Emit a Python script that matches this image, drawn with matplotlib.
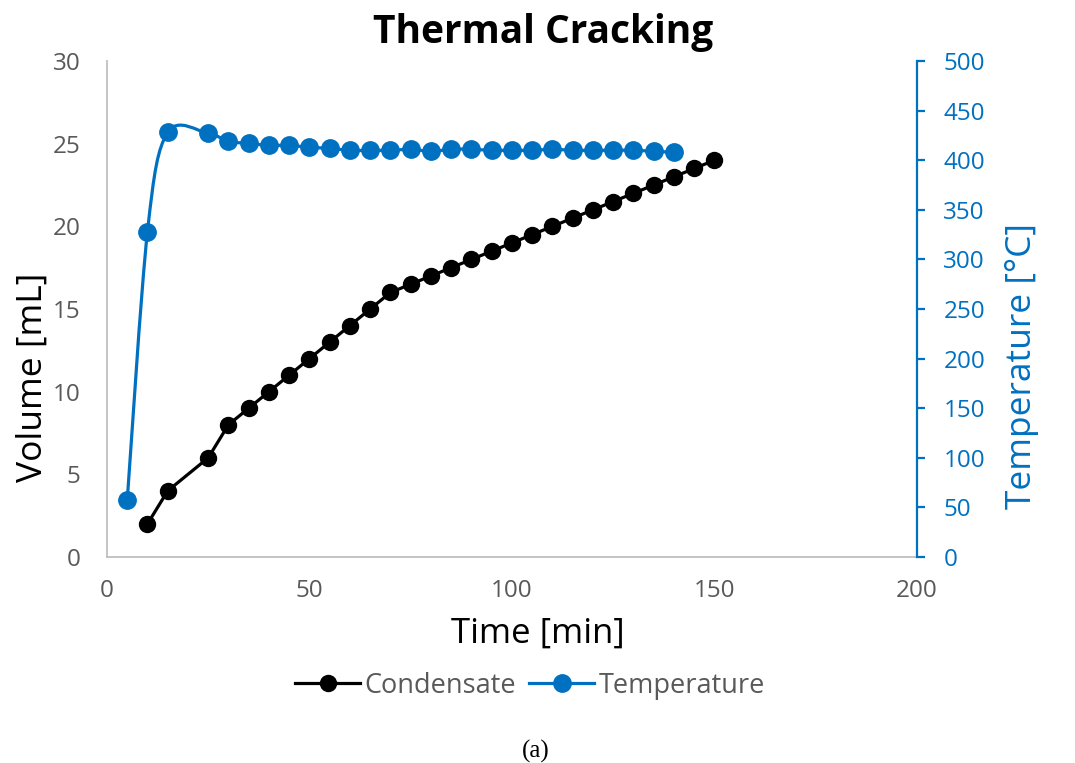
import numpy as np
import matplotlib
matplotlib.use("Agg")
import matplotlib.pyplot as plt
from matplotlib.path import Path
from matplotlib.patches import PathPatch
from matplotlib.lines import Line2D

plt.rcParams['font.family'] = ['Open Sans', 'DejaVu Sans']

# data
cond_time = [10, 15, 25, 30, 35, 40, 45, 50, 55, 60, 65, 70, 75, 80, 85, 90,
             95, 100, 105, 110, 115, 120, 125, 130, 135, 140, 145, 150]
cond_vol = [2, 4, 6, 8, 9, 10, 11, 12, 13, 14, 15, 16, 16.5, 17, 17.5, 18,
            18.5, 19, 19.5, 20, 20.5, 21, 21.5, 22, 22.5, 23, 23.5, 24]

temp_time = [5, 10, 15, 25, 30, 35, 40, 45, 50, 55, 60, 65, 70, 75, 80, 85,
             90, 95, 100, 105, 110, 115, 120, 125, 130, 135, 140]
temp_val = [57, 328, 428, 427, 419, 417, 415, 415, 413, 412, 410, 410, 410,
            411, 409, 411, 411, 410, 410, 410, 411, 410, 410, 410, 410, 409, 408]

vol_ticks = [0, 5, 10, 15, 20, 25, 30]
temp_ticks = [0, 50, 100, 150, 200, 250, 300, 350, 400, 450, 500]
time_ticks = [0, 50, 100, 150, 200]

BLUE = '#0070C0'
GREY_TXT = '#595959'
GREY_AX = '#BFBFBF'


def smooth_path(xs, ys):
    # Excel-style smoothed line: cubic bezier through the points (catmull-rom)
    pts = np.column_stack([xs, ys]).astype(float)
    n = len(pts)
    verts = [pts[0]]
    codes = [Path.MOVETO]
    for i in range(n - 1):
        p0 = pts[max(i - 1, 0)]
        p1 = pts[i]
        p2 = pts[i + 1]
        p3 = pts[min(i + 2, n - 1)]
        verts += [p1 + (p2 - p0) / 6, p2 - (p3 - p1) / 6, p2]
        codes += [Path.CURVE4] * 3
    return Path(verts, codes)


fig = plt.figure(figsize=(10.75, 7.63), dpi=100)
ax = fig.add_axes([0.0995, 0.270, 0.7535, 0.650])
ax2 = ax.twinx()

# condensate on left axis
ax.plot(cond_time, cond_vol, color='black', lw=2.3, marker='o', ms=11.5,
        zorder=3)

# temperature on right axis, smoothed line
ax2.add_patch(PathPatch(smooth_path(temp_time, temp_val), facecolor='none',
                        edgecolor=BLUE, lw=2.3, zorder=2))
ax2.plot(temp_time, temp_val, ls='none', marker='o', ms=12.5, color=BLUE,
         zorder=3)

ax.set_xlim(0, 200)
ax.set_ylim(0, 30)
ax2.set_ylim(0, 500)
ax.set_xticks(time_ticks)
ax.set_yticks(vol_ticks)
ax2.set_yticks(temp_ticks)

for s in ['top', 'right']:
    ax.spines[s].set_visible(False)
ax.spines['left'].set_color(GREY_AX)
ax.spines['bottom'].set_color(GREY_AX)
ax.spines['left'].set_linewidth(1.3)
ax.spines['bottom'].set_linewidth(1.3)
for s in ['top', 'left', 'bottom']:
    ax2.spines[s].set_visible(False)
ax2.spines['right'].set_color(BLUE)
ax2.spines['right'].set_linewidth(1.6)

ax.tick_params(axis='both', length=0, labelsize=17.5, labelcolor=GREY_TXT)
ax.tick_params(axis='y', pad=19)
ax.tick_params(axis='x', pad=16)
ax2.tick_params(axis='y', length=6, width=1.6, color=BLUE, labelsize=17.5,
                labelcolor=BLUE, pad=13)

ax.set_xlabel('Time [min]', fontsize=25, color='black', va='center')
ax.xaxis.set_label_coords(0.532, -0.155)
ax.set_ylabel('Volume [mL]', fontsize=25.5, color='black', va='center',
              ha='center')
ax.yaxis.set_label_coords(-0.092, 0.362)
ax2.set_ylabel('Temperature [°C]', fontsize=25.5, color=BLUE, va='center',
               ha='center', rotation=90)
ax2.yaxis.set_label_coords(1.13, 0.385)

fig.text(0.5056, 0.958, 'Thermal Cracking', fontsize=28, fontweight='bold',
         ha='center', va='center')

handles = [
    Line2D([], [], color='black', lw=2.3, marker='o', ms=11.5),
    Line2D([], [], color=BLUE, lw=2.3, marker='o', ms=12.5),
]
leg = fig.legend(handles, ['Condensate', 'Temperature'], loc='center',
                 bbox_to_anchor=(0.493, 0.101), ncol=2, frameon=False,
                 fontsize=19.5, handlelength=2.4, handletextpad=0.15,
                 columnspacing=0.5)
for t in leg.get_texts():
    t.set_color(GREY_TXT)

fig.text(0.498, 0.015, '(a)', fontsize=18, family='Liberation Serif',
         ha='center', va='center')

fig.savefig('out.png', dpi=100)
